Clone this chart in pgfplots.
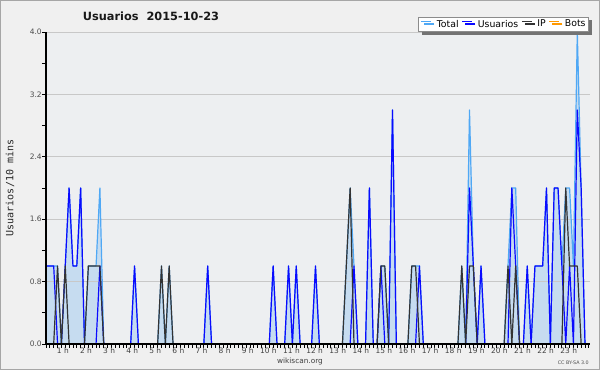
\documentclass[border=0pt]{standalone}
\usepackage{pgfplots}
\pgfplotsset{compat=1.18}
\usepackage{pgfplotstable}
\usepackage{fontspec}
\setmainfont{DejaVu Sans}
\newfontfamily\monofont{DejaVu Sans Mono}
\usetikzlibrary{shadows}
\definecolor{bgout}{HTML}{F0F0F0}
\definecolor{bgplot}{HTML}{EDEFF1}
\definecolor{totfill}{HTML}{C6DCF0}
\definecolor{totline}{HTML}{4FA8F5}
\definecolor{usuline}{HTML}{0A0AFF}
\definecolor{ipline}{HTML}{333333}
\definecolor{botline}{HTML}{FF9900}
\definecolor{gridc}{HTML}{C8C8C8}

\pgfplotstableread{
bin total usu ip bots
0 1 1 0 0
1 1 1 0 0
2 1 1 0 0
3 1 0 1 0
4 0 0 0 0
5 1 1 1 0
6 2 2 0 0
7 1 1 0 0
8 1 1 0 0
9 2 2 0 0
10 0 0 0 0
11 1 0 1 0
12 1 0 1 0
13 1 0 1 0
14 2 1 1 0
15 0 0 0 0
16 0 0 0 0
17 0 0 0 0
18 0 0 0 0
19 0 0 0 0
20 0 0 0 0
21 0 0 0 0
22 0 0 0 0
23 1 1 0 0
24 0 0 0 0
25 0 0 0 0
26 0 0 0 0
27 0 0 0 0
28 0 0 0 0
29 0 0 0 0
30 1 0 1 0
31 0 0 0 0
32 1 0 1 0
33 0 0 0 0
34 0 0 0 0
35 0 0 0 0
36 0 0 0 0
37 0 0 0 0
38 0 0 0 0
39 0 0 0 0
40 0 0 0 0
41 0 0 0 0
42 1 1 0 0
43 0 0 0 0
44 0 0 0 0
45 0 0 0 0
46 0 0 0 0
47 0 0 0 0
48 0 0 0 0
49 0 0 0 0
50 0 0 0 0
51 0 0 0 0
52 0 0 0 0
53 0 0 0 0
54 0 0 0 0
55 0 0 0 0
56 0 0 0 0
57 0 0 0 0
58 0 0 0 0
59 1 1 0 0
60 0 0 0 0
61 0 0 0 0
62 0 0 0 0
63 1 1 0 0
64 0 0 0 0
65 1 1 0 0
66 0 0 0 0
67 0 0 0 0
68 0 0 0 0
69 0 0 0 0
70 1 1 0 0
71 0 0 0 0
72 0 0 0 0
73 0 0 0 0
74 0 0 0 0
75 0 0 0 0
76 0 0 0 0
77 0 0 0 0
78 1 0 1 0
79 2 0 2 0
80 1 1 0 0
81 0 0 0 0
82 0 0 0 0
83 0 0 0 0
84 2 2 0 0
85 0 0 0 0
86 0 0 0 0
87 1 1 1 0
88 1 0 1 0
89 0 0 0 0
90 3 3 0 0
91 0 0 0 0
92 0 0 0 0
93 0 0 0 0
94 0 0 0 0
95 1 0 1 0
96 1 0 1 0
97 1 1 0 0
98 0 0 0 0
99 0 0 0 0
100 0 0 0 0
101 0 0 0 0
102 0 0 0 0
103 0 0 0 0
104 0 0 0 0
105 0 0 0 0
106 0 0 0 0
107 0 0 0 0
108 1 0 1 0
109 0 0 0 0
110 3 2 1 0
111 1 1 1 0
112 0 0 0 0
113 1 1 0 0
114 0 0 0 0
115 0 0 0 0
116 0 0 0 0
117 0 0 0 0
118 0 0 0 0
119 0 0 0 0
120 1 0 1 0
121 2 2 0 0
122 2 1 1 0
123 0 0 0 0
124 0 0 0 0
125 1 1 0 0
126 0 0 0 0
127 1 1 0 0
128 1 1 0 0
129 1 1 0 0
130 2 2 0 0
131 0 0 0 0
132 2 2 0 0
133 2 2 0 0
134 1 1 0 0
135 2 0 2 0
136 2 1 1 0
137 1 0 1 0
138 4 3 1 0
139 2 2 0 0
140 0 0 0 0
}\datatab

\begin{document}
\begin{tikzpicture}
\fill[bgout] (0,0) rectangle (450pt,277.5pt);
\draw[black!35, line width=0.75pt] (0.375pt,0.375pt) rectangle (449.625pt,277.125pt);
\useasboundingbox (0,0) rectangle (450pt,277.5pt);
\begin{axis}[
  at={(34.5pt,19.5pt)}, anchor=south west,
  scale only axis, width=408pt, height=234pt,
  xmin=0, xmax=141.3, ymin=0, ymax=4,
  axis background/.style={fill=bgplot},
  axis x line*=bottom, axis y line*=left,
  axis line style={black, line width=0.8pt, -},
  every inner x axis line/.append style={-},
  every inner y axis line/.append style={-},
  every outer x axis line/.append style={-},
  every outer y axis line/.append style={-},
  axis on top,
  tick align=outside,
  major tick length=3pt, minor tick length=3pt,
  every tick/.style={black, line width=0.6pt},
  xtick={6,12,18,24,30,36,42,48,54,60,66,72,78,84,90,96,102,108,114,120,126,132,138},
  xticklabels={1 h,2 h,3 h,4 h,5 h,6 h,7 h,8 h,9 h,10 h,11 h,12 h,13 h,14 h,15 h,16 h,17 h,18 h,19 h,20 h,21 h,22 h,23 h},
  minor xtick={0,1,...,141},
  ytick={0,0.8,1.6,2.4,3.2,4},
  minor ytick={0.4,1.2,2,2.8,3.6},
  xticklabel style={anchor=north east, inner sep=0pt, font=\fontsize{5.6}{6}\selectfont, text=black!75},
  yticklabel style={inner sep=0pt, font=\fontsize{5.6}{6}\selectfont, text=black!70,
     /pgf/number format/.cd, fixed, fixed zerofill, precision=1, assume math mode=true},
  legend style={at={(0.998,1)}, anchor=south east, legend columns=4,
     draw=black!45, fill=white, font=\fontsize{7}{8}\selectfont,
     inner xsep=1.5pt, inner ysep=0.6pt,
     nodes={inner xsep=0.8pt, inner ysep=1.4pt},
     drop shadow={shadow xshift=2.25pt, shadow yshift=-2.25pt, fill=black!55, opacity=1},
     /tikz/every odd column/.append style={column sep=3pt},
     /tikz/every even column/.append style={column sep=1.5pt}},
  legend image code/.code={\draw[#1, line width=0.8pt] (0pt,2.6pt) -- (7.5pt,2.6pt);},
]
\addplot[fill=totfill, draw=none, forget plot] table[x=bin,y=total]{\datatab} \closedcycle;
% horizontal grid lines, drawn over the fill and under the series
\addplot[gridc, line width=0.6pt, forget plot] coordinates {(0,0.8) (141.3,0.8)};
\addplot[gridc, line width=0.6pt, forget plot] coordinates {(0,1.6) (141.3,1.6)};
\addplot[gridc, line width=0.6pt, forget plot] coordinates {(0,2.4) (141.3,2.4)};
\addplot[gridc, line width=0.6pt, forget plot] coordinates {(0,3.2) (141.3,3.2)};
\addplot[gridc, line width=0.6pt, forget plot] coordinates {(0,4) (141.3,4)};
\addplot[totline, line width=0.9pt, line join=round] table[x=bin,y=total]{\datatab};
\addlegendentry{Total}
\addplot[usuline, line width=0.9pt, line join=round] table[x=bin,y=usu]{\datatab};
\addlegendentry{Usuarios}
\addplot[ipline, line width=0.9pt, line join=round] table[x=bin,y=ip]{\datatab};
\addlegendentry{IP}
\addplot[botline, line width=0.9pt, line join=round] table[x=bin,y=bots]{\datatab};
\addlegendentry{Bots}
\end{axis}
\node[font=\fontsize{8.5}{10}\selectfont\bfseries, text=black!90] at (113.25pt,265.5pt) {Usuarios\ \ 2015-10-23};
\node[font=\monofont\fontsize{7.5}{8}\selectfont, rotate=90, text=black!85] at (7.5pt,136.5pt) {Usuarios/10 mins};
\node[font=\fontsize{5.5}{6}\selectfont, text=black!75] at (225pt,6.75pt) {wikiscan.org};
\node[font=\fontsize{3.6}{4}\selectfont, text=black!70] at (430pt,5.25pt) {CC BY-SA 3.0};
\end{tikzpicture}
\end{document}
